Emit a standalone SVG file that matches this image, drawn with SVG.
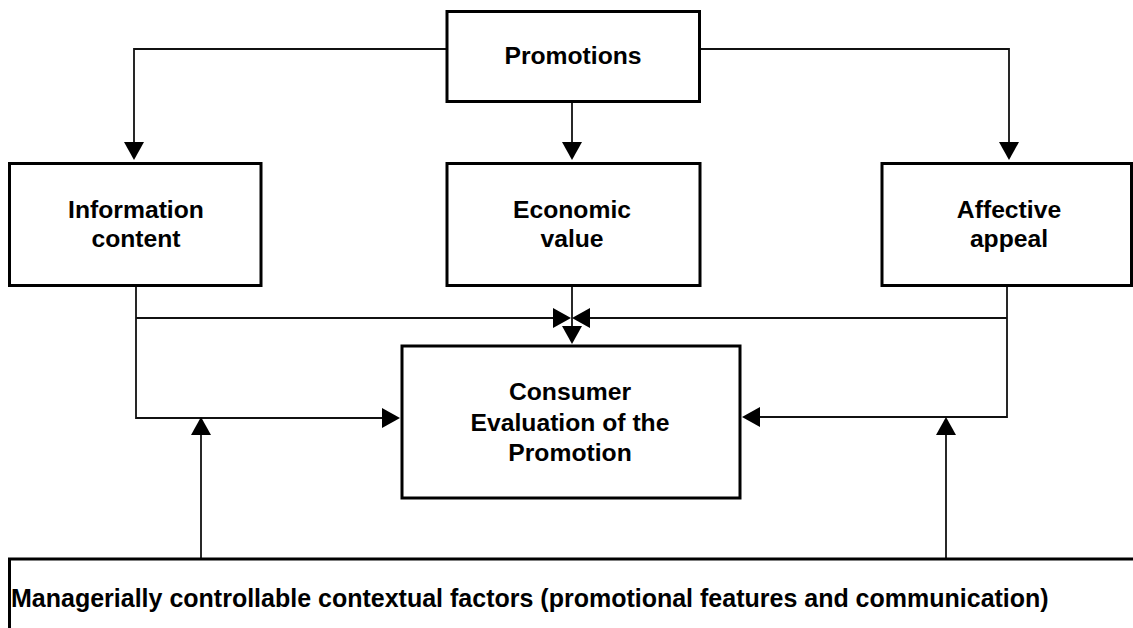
<svg xmlns="http://www.w3.org/2000/svg" width="1133" height="628" viewBox="0 0 1133 628">
  <style>
    .box { fill: #fff; stroke: #000; stroke-width: 3; }
    .lbl { font-family: "Liberation Sans", Arial, sans-serif; font-weight: bold; font-size: 24.7px; fill: #000; text-anchor: middle; }
    .conn { fill: none; stroke: #111; stroke-width: 1.8; }
  </style>
  <defs>
    <marker id="arr" markerUnits="userSpaceOnUse" markerWidth="18" markerHeight="20" viewBox="0 0 18 20" refX="8" refY="10" orient="auto">
      <path d="M0,0 L18,10 L0,20 Z" fill="#000"/>
    </marker>
  </defs>
  <rect width="1133" height="628" fill="#fff"/>

  <g id="connectors">
    <path class="conn" d="M447,49 H134 V150" marker-end="url(#arr)"/>
    <path class="conn" d="M699,49 H1009 V150" marker-end="url(#arr)"/>
    <path class="conn" d="M572,102 V150" marker-end="url(#arr)"/>
    <path class="conn" d="M136,285 V418 H390" marker-end="url(#arr)"/>
    <path class="conn" d="M136,318 H561" marker-end="url(#arr)"/>
    <path class="conn" d="M1007,285 V417 H752" marker-end="url(#arr)"/>
    <path class="conn" d="M1007,318 H582" marker-end="url(#arr)"/>
    <path class="conn" d="M572,285 V334" marker-end="url(#arr)"/>
    <path class="conn" d="M201,559 V427" marker-end="url(#arr)"/>
    <path class="conn" d="M946,559 V427" marker-end="url(#arr)"/>
  </g>

  <g id="promotions">
    <rect class="box" x="447" y="11.5" width="252.5" height="90"/>
    <text class="lbl" x="573" y="64">Promotions</text>
  </g>
  <g id="information-content">
    <rect class="box" x="9.5" y="163.5" width="251.5" height="122"/>
    <text class="lbl" x="136" y="218">Information</text>
    <text class="lbl" x="136" y="247">content</text>
  </g>
  <g id="economic-value">
    <rect class="box" x="447" y="163.5" width="253" height="122"/>
    <text class="lbl" x="572" y="218">Economic</text>
    <text class="lbl" x="572" y="247">value</text>
  </g>
  <g id="affective-appeal">
    <rect class="box" x="882" y="163.5" width="249.5" height="122"/>
    <text class="lbl" x="1009" y="218">Affective</text>
    <text class="lbl" x="1009" y="247">appeal</text>
  </g>
  <g id="consumer-evaluation">
    <rect class="box" x="402" y="346" width="338" height="152"/>
    <text class="lbl" x="570" y="400">Consumer</text>
    <text class="lbl" x="570" y="431">Evaluation of the</text>
    <text class="lbl" x="570" y="461">Promotion</text>
  </g>
  <g id="contextual-factors">
    <rect class="box" x="9.5" y="559" width="1130" height="100"/>
    <text class="lbl" x="11" y="607" style="text-anchor:start;font-size:25px">Managerially controllable contextual factors (promotional features and communication)</text>
  </g>
</svg>
